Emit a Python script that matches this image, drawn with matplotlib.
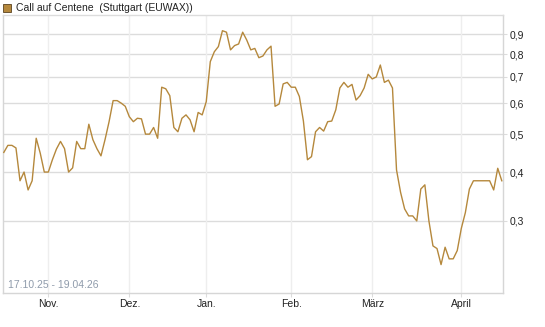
import numpy as np
import pandas as pd
import matplotlib
matplotlib.use("Agg")
import matplotlib.pyplot as plt
from matplotlib.patches import Rectangle
from matplotlib.ticker import FixedLocator, NullLocator

plt.rcParams['font.family'] = ['Liberation Sans', 'DejaVu Sans']

title = "Call auf Centene  (Stuttgart (EUWAX))"
period = "17.10.25 - 19.04.26"
holidays = ["2025-12-24", "2025-12-25", "2025-12-26", "2025-12-31",
            "2026-01-01", "2026-04-03", "2026-04-06"]
month_labels = ["Nov.", "Dez.", "Jan.", "Feb.", "März", "April"]
y_ticks = [0.3, 0.4, 0.5, 0.6, 0.7, 0.8, 0.9]

prices = [
    0.449, 0.468, 0.468, 0.461, 0.380, 0.400, 0.360, 0.380, 0.488, 0.447,
    0.400, 0.400, 0.430, 0.458, 0.479, 0.459, 0.400, 0.410, 0.479, 0.459,
    0.459, 0.530, 0.484, 0.459, 0.440, 0.484, 0.538, 0.609, 0.609, 0.600,
    0.589, 0.554, 0.538, 0.549, 0.547, 0.500, 0.500, 0.520, 0.488, 0.659,
    0.653, 0.627, 0.520, 0.507, 0.549, 0.560, 0.544, 0.507, 0.568, 0.560,
    0.605, 0.766, 0.812, 0.837, 0.919, 0.911, 0.821, 0.842, 0.850, 0.911,
    0.870, 0.821, 0.828, 0.784, 0.792, 0.821, 0.839, 0.589, 0.597, 0.672,
    0.678, 0.659, 0.659, 0.624, 0.540, 0.430, 0.438, 0.507, 0.520, 0.509,
    0.538, 0.540, 0.577, 0.656, 0.678, 0.659, 0.670, 0.611, 0.627, 0.656,
    0.711, 0.692, 0.700, 0.751, 0.678, 0.687, 0.656, 0.405, 0.355, 0.322,
    0.309, 0.309, 0.300, 0.362, 0.371, 0.300, 0.259, 0.255, 0.232, 0.257,
    0.240, 0.240, 0.252, 0.287, 0.315, 0.362, 0.380, 0.380, 0.380, 0.380,
    0.380, 0.360, 0.409, 0.380,
]

# trading days -> the chart is spaced by session, not calendar day
days = pd.bdate_range("2025-10-17", "2026-04-17")
days = days[~days.isin(pd.to_datetime(holidays))]
assert len(days) == len(prices)
idx = np.arange(len(days))
month_pos = [idx[(days.month == d.month) & (days.year == d.year)][0]
             for d in pd.date_range("2025-11-01", "2026-04-01", freq="MS")]

line_col = "#b5883c"
grid_h = "#dcdcdc"
grid_v = "#eeeeee"

fig = plt.figure(figsize=(5.45, 3.27), dpi=100)
ax = fig.add_axes([3 / 545, 34 / 327, 500 / 545, 278 / 327])

ax.plot(idx, prices, color=line_col, lw=1.0, zorder=3)

ax.set_yscale("log")
ax.set_ylim(0.1963, 1.008)
ax.set_xlim(-0.2, 123.3)

ax.yaxis.set_major_locator(FixedLocator(y_ticks))
ax.yaxis.set_minor_locator(NullLocator())
ax.set_yticklabels([f"{v:.1f}".replace(".", ",") for v in y_ticks])
ax.yaxis.tick_right()
ax.tick_params(axis="y", length=3, width=0.8, color=grid_h, pad=2,
               labelsize=7.5, labelcolor="#222222")

ax.set_xticks(month_pos)
ax.set_xticklabels(month_labels)
ax.xaxis.set_minor_locator(NullLocator())
ax.tick_params(axis="x", length=3, width=0.8, color=grid_h, pad=1,
               labelsize=7.5, labelcolor="#222222")

for v in y_ticks:
    ax.axhline(v, color=grid_h, lw=1.0, zorder=1)
for p in month_pos:
    ax.axvline(p, color=grid_v, lw=1.0, zorder=1)

for side in ["left", "right", "bottom", "top"]:
    ax.spines[side].set_color("#d6d6d6")
    ax.spines[side].set_linewidth(1.0)
ax.spines["top"].set_color(grid_h)

ax.text(0.01, 0.012, period, transform=ax.transAxes, fontsize=7.5,
        color="#8f9bab", ha="left", va="bottom")

fig.patches.append(Rectangle((3 / 545, 1 - 12 / 327), 8 / 545, 8 / 327,
                             transform=fig.transFigure, facecolor=line_col,
                             edgecolor="#5a4320", lw=0.6))
fig.text(16 / 545, 1 - 8 / 327, title, fontsize=7.5, color="#222222",
         ha="left", va="center")

fig.savefig("out.png", dpi=100)
